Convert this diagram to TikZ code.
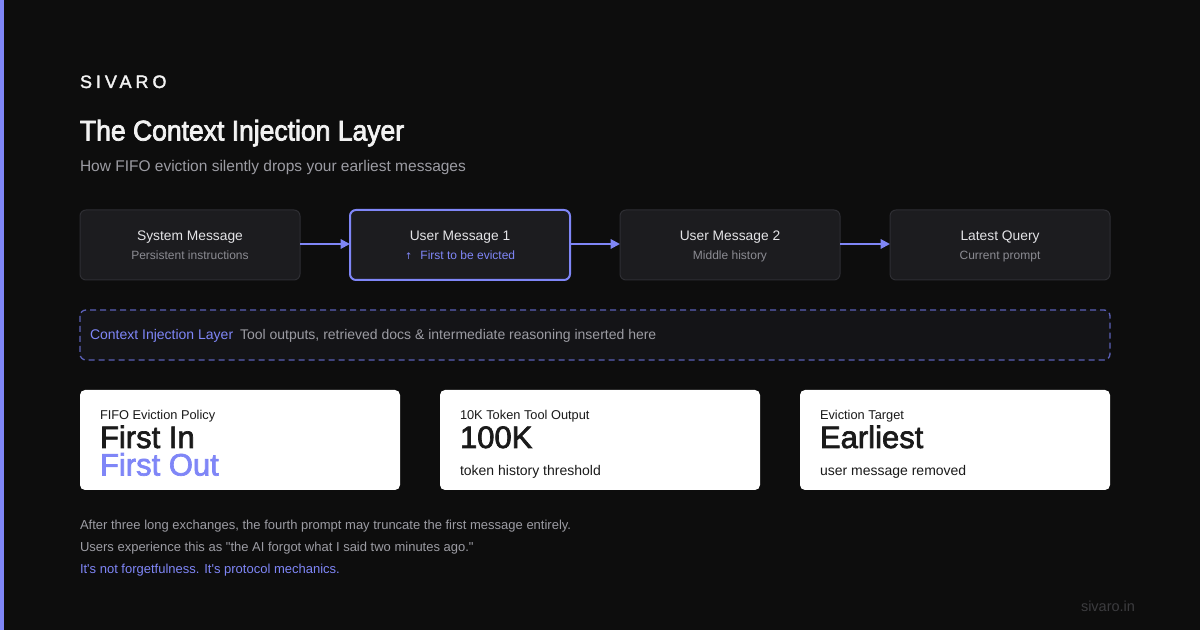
\documentclass[tikz,border=0pt]{standalone}
\usepackage{fontspec}
\setmainfont{Liberation Sans}[Ligatures=TeXOff]
\newfontfamily\medium{Liberation Sans}[FakeBold=2.2]
\newfontfamily\semib{Liberation Sans}[FakeStretch=0.93,FakeBold=2.6]
\newfontfamily\spaced{Liberation Sans}[LetterSpace=22,FakeBold=2.0]
\newfontfamily\symb{DejaVu Sans}
\usetikzlibrary{arrows.meta}
\definecolor{bgc}{HTML}{0D0D0D}
\definecolor{accent}{HTML}{7F86F7}
\definecolor{dashc}{HTML}{5B60B8}
\definecolor{boxfill}{HTML}{1C1C1F}
\definecolor{boxline}{HTML}{2E2E33}
\definecolor{dashfill}{HTML}{141417}
\definecolor{titlec}{HTML}{F2F2F2}
\definecolor{subc}{HTML}{9C9CA3}
\definecolor{boxsub}{HTML}{8B8B92}
\definecolor{boxtxt}{HTML}{E4E4E7}
\definecolor{dark}{HTML}{1A1A1A}
\definecolor{footc}{HTML}{3C3C3F}
\newcommand{\fs}[1]{\fontsize{\fpeval{#1*0.75}pt}{\fpeval{#1*0.9}pt}\selectfont}
\begin{document}
\begin{tikzpicture}[x=0.75pt,y=-0.75pt,
  txt/.style={inner sep=0pt,outer sep=0pt,anchor=base west},
  ctxt/.style={inner sep=0pt,outer sep=0pt,anchor=base},
  msgbox/.style={draw=boxline,fill=boxfill,rounded corners=4.5pt,line width=0.75pt},
  hotbox/.style={draw=accent,fill=boxfill,rounded corners=4.5pt,line width=1.5pt},
  card/.style={fill=white,rounded corners=3.75pt},
  flow/.style={draw=accent,line width=1.5pt,-{Triangle[length=7pt,width=7pt]}}]
\useasboundingbox (0,0) rectangle (1200,630);
\fill[bgc] (0,0) rectangle (1200,630);
\fill[accent] (0,0) rectangle (4,630);
% header
\node[txt,text=titlec] (brand) at (80,88) {\spaced\fs{18}SIVARO};
\node[txt,text=titlec] (title) at (80,140.5) {\semib\fs{28.5}The Context Injection Layer};
\node[txt,text=subc] (subtitle) at (80,172) {\fs{15.5}How FIFO eviction silently drops your earliest messages};
% message boxes
\path[msgbox] (80,210) rectangle (300,280);
\path[hotbox] (350,210) rectangle (570,280);
\path[msgbox] (620,210) rectangle (840,280);
\path[msgbox] (890,210) rectangle (1110,280);
\node[ctxt,text=boxtxt] (t1) at (190,241) {\fs{13.8}System Message};
\node[ctxt,text=boxsub] (s1) at (190,260) {\fs{12}Persistent instructions};
\node[ctxt,text=boxtxt] (t2) at (460,241) {\fs{13.8}User Message 1};
\node[ctxt,text=accent] (s2) at (460,260) {{\symb\fs{9}↑}\hspace{6pt}\fs{12}First to be evicted};
\node[ctxt,text=boxtxt] (t3) at (730,241) {\fs{13.8}User Message 2};
\node[ctxt,text=boxsub] (s3) at (730,260) {\fs{12}Middle history};
\node[ctxt,text=boxtxt] (t4) at (1000,241) {\fs{13.8}Latest Query};
\node[ctxt,text=boxsub] (s4) at (1000,260) {\fs{12}Current prompt};
\coordinate (e1) at (300,244); \coordinate (w2) at (350,244);
\coordinate (e2) at (570,244); \coordinate (w3) at (620,244);
\coordinate (e3) at (840,244); \coordinate (w4) at (890,244);
\draw[flow] (e1) -- (w2);
\draw[flow] (e2) -- (w3);
\draw[flow] (e3) -- (w4);
% injection layer
\draw[draw=dashc,fill=dashfill,line width=1pt,dash pattern=on 4.5pt off 3pt,rounded corners=4.5pt] (80,310) rectangle (1110,360);
\node[txt,text=accent] (inj) at (90,340) {\fs{14}Context Injection Layer};
\node[txt,text=subc] (injd) at (240,340) {\fs{14}Tool outputs, retrieved docs \& intermediate reasoning inserted here};
% cards
\path[card] (80,390) rectangle (400,490);
\path[card] (440,390) rectangle (760,490);
\path[card] (800,390) rectangle (1110,490);
\node[txt,text=dark] (c1l) at (100,420) {\fs{12.8}FIFO Eviction Policy};
\node[txt,text=dark] (c1a) at (100,448) {\medium\fs{31}First In};
\node[txt,text=accent] (c1b) at (100,475.5) {\medium\fs{31}First Out};
\node[txt,text=dark] (c2l) at (460,420) {\fs{12.8}10K Token Tool Output};
\node[txt,text=dark] (c2a) at (460,448) {\medium\fs{31}100K};
\node[txt,text=dark] (c2b) at (460,475.5) {\fs{14}token history threshold};
\node[txt,text=dark] (c3l) at (820,420) {\fs{12.8}Eviction Target};
\node[txt,text=dark] (c3a) at (820,448) {\medium\fs{31}Earliest};
\node[txt,text=dark] (c3b) at (820,475.5) {\fs{14}user message removed};
% notes
\node[txt,text=subc] (n1) at (80,530) {\fs{13}After three long exchanges, the fourth prompt may truncate the first message entirely.};
\node[txt,text=subc] (n2) at (80,552) {\fs{13}Users experience this as "the AI forgot what I said two minutes ago."};
\node[txt,text=accent] (n3) at (80,574) {\fs{13}It's not forgetfulness. It's protocol mechanics.};
\node[txt,text=footc] (foot) at (1081,612) {\fs{14.5}sivaro.in};
\end{tikzpicture}
\end{document}
